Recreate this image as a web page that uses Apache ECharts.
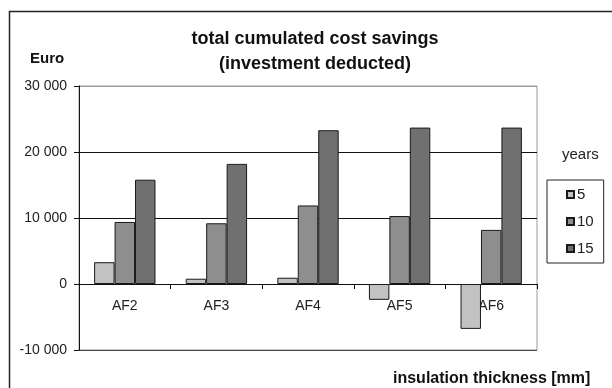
<!DOCTYPE html>
<html><head><meta charset="utf-8">
<script src="https://cdn.jsdelivr.net/npm/echarts@6/dist/echarts.min.js"></script>
<style>html,body{margin:0;padding:0;background:#fff}#c{width:612px;height:388px}</style>
</head><body><div id="c"></div>
<script>
const categories = ['AF2', 'AF3', 'AF4', 'AF5', 'AF6'];
const seriesNames = ['5', '10', '15'];
const years5 = [3300, 800, 950, -2400, -6800];
const years10 = [9400, 9200, 11900, 10300, 8200];
const years15 = [15800, 18200, 23300, 23700, 23700];
const yTicks = [-10000, 0, 10000, 20000, 30000];
const colors = ['#c2c2c2', '#8e8e8e', '#707070'];

const FONT = 'Liberation Sans, Arial, sans-serif';
const chart = echarts.init(document.getElementById('c'));
const values = [years5, years10, years15];

chart.setOption({
  animation: false,
  backgroundColor: '#fff',
  title: {
    text: 'total cumulated cost savings\n(investment deducted)',
    left: 310, top: 22, textAlign: 'center',
    textStyle: { fontFamily: FONT, fontSize: 18, fontWeight: 'bold', color: '#111', lineHeight: 25 }
  },
  legend: {
    orient: 'vertical',
    left: 547, top: 180, width: 60,
    padding: [7, 10, 7, 19],
    itemWidth: 7, itemHeight: 7, itemGap: 12,
    borderColor: '#222', borderWidth: 1,
    icon: 'rect',
    textStyle: { fontFamily: FONT, fontSize: 15, color: '#222', padding: [0, 0, 0, -2] },
    data: seriesNames
  },
  grid: {
    left: 79, top: 86, width: 458, height: 264,
    show: true, borderColor: '#9a9a9a', borderWidth: 1
  },
  xAxis: {
    type: 'category',
    data: categories,
    axisLine: { onZero: true, lineStyle: { color: '#111', width: 1 } },
    axisTick: { show: true, inside: false, length: 5, lineStyle: { color: '#111' } },
    axisLabel: { fontFamily: FONT, fontSize: 14, color: '#222', margin: -51 }
  },
  yAxis: {
    type: 'value',
    min: yTicks[0], max: yTicks[yTicks.length - 1], interval: 10000,
    axisLine: { show: true, lineStyle: { color: '#111', width: 1 } },
    axisTick: { show: true, length: 5, lineStyle: { color: '#111' } },
    axisLabel: {
      fontFamily: FONT, fontSize: 14, color: '#222', margin: 12,
      formatter: v => (v < 0 ? '-' : '') + (Math.abs(v) >= 1000 ? Math.floor(Math.abs(v) / 1000) + ' 000' : String(Math.abs(v)))
    },
    splitLine: { show: true, lineStyle: { color: ['#444', '#111', '#111', '#111', '#9a9a9a'], width: 1 } }
  },
  series: seriesNames.map((n, i) => ({
    name: n,
    type: 'bar',
    data: values[i],
    barGap: '0%',
    barCategoryGap: '33%',
    itemStyle: { color: colors[i], borderColor: '#1a1a1a', borderWidth: 1 }
  })),
  graphic: [
    { type: 'rect', shape: { x: 9.5, y: 11.5, width: 700, height: 500 }, style: { fill: 'none', stroke: '#222', lineWidth: 1.5 }, silent: true },
    { type: 'text', left: 30, top: 51, style: { text: 'Euro', font: 'bold 15px ' + FONT, fill: '#111' } },
    { type: 'text', left: 562, top: 147, style: { text: 'years', font: '15px ' + FONT, fill: '#222' } },
    { type: 'text', left: 393, top: 371, style: { text: 'insulation thickness [mm]', font: 'bold 16px ' + FONT, fill: '#111' } }
  ]
});
</script></body></html>
